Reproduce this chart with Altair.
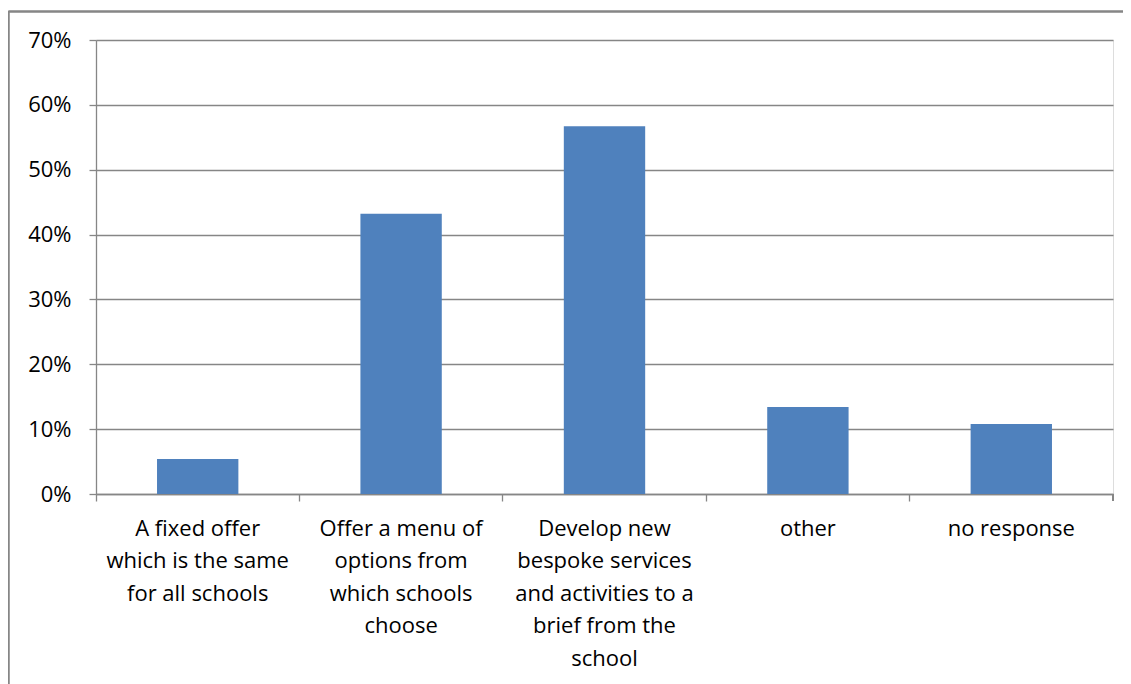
import altair as alt
import pandas as pd

category_lines = [
    ["A fixed offer", "which is the same", "for all schools"],
    ["Offer a menu of", "options from", "which schools", "choose"],
    ["Develop new", "bespoke services", "and activities to a", "brief from the", "school"],
    ["other"],
    ["no response"],
]
values = [0.054, 0.432, 0.567, 0.134, 0.108]
y_ticks = [0, 0.1, 0.2, 0.3, 0.4, 0.5, 0.6, 0.7]

categories = ["|".join(lines) for lines in category_lines]
df = pd.DataFrame({"category": categories, "value": values})

W, H = 1017, 454
GRAY = "#868686"
FONT = "Open Sans"
FS = 22

bars = alt.Chart(df).mark_bar(color="#4F81BD", width=alt.RelativeBandSize(0.4)).encode(
    x=alt.X("category:N", sort=None, title=None,
            scale=alt.Scale(paddingInner=0, paddingOuter=0),
            axis=alt.Axis(labelAngle=0, labelExpr="split(datum.label, '|')",
                          bandPosition=0, tickColor=GRAY, tickSize=7, tickWidth=1.3,
                          domainColor=GRAY, domainWidth=1.3, labelFont=FONT,
                          labelFontSize=FS, labelColor="#000000", labelLineHeight=32.5,
                          labelPadding=17, labelLimit=300, grid=False)),
    y=alt.Y("value:Q", title=None,
            scale=alt.Scale(domain=[0, 0.7], nice=False),
            axis=alt.Axis(values=y_ticks, format=".0%", tickColor=GRAY, tickSize=7,
                          tickWidth=1.3, domainColor=GRAY, domainWidth=1.3,
                          gridColor=GRAY, gridWidth=1.3, gridOpacity=1,
                          labelFont=FONT, labelFontSize=FS, labelColor="#000000",
                          labelPadding=18)),
)

end_tick = alt.Chart(df).mark_rule(color=GRAY, strokeWidth=1.3).encode(
    x=alt.value(W), y=alt.value(H), y2=alt.value(H + 7)
)
frame_top = alt.Chart(df).mark_rule(color=GRAY, strokeWidth=1.5).encode(
    x=alt.value(-87.5), x2=alt.value(W + 40), y=alt.value(-28.5)
)
frame_left = alt.Chart(df).mark_rule(color=GRAY, strokeWidth=1.5).encode(
    x=alt.value(-87.5), y=alt.value(-28.5), y2=alt.value(H + 250)
)

chart = alt.layer(bars, end_tick, frame_top, frame_left).properties(
    width=W, height=H,
    autosize=alt.AutoSizeParams(type="none"),
    padding={"left": 88, "top": 32, "right": 10, "bottom": 190},
).configure_view(stroke=None).configure(background="white")

chart.save("out.html", embed_options={"renderer": "svg", "actions": False})
